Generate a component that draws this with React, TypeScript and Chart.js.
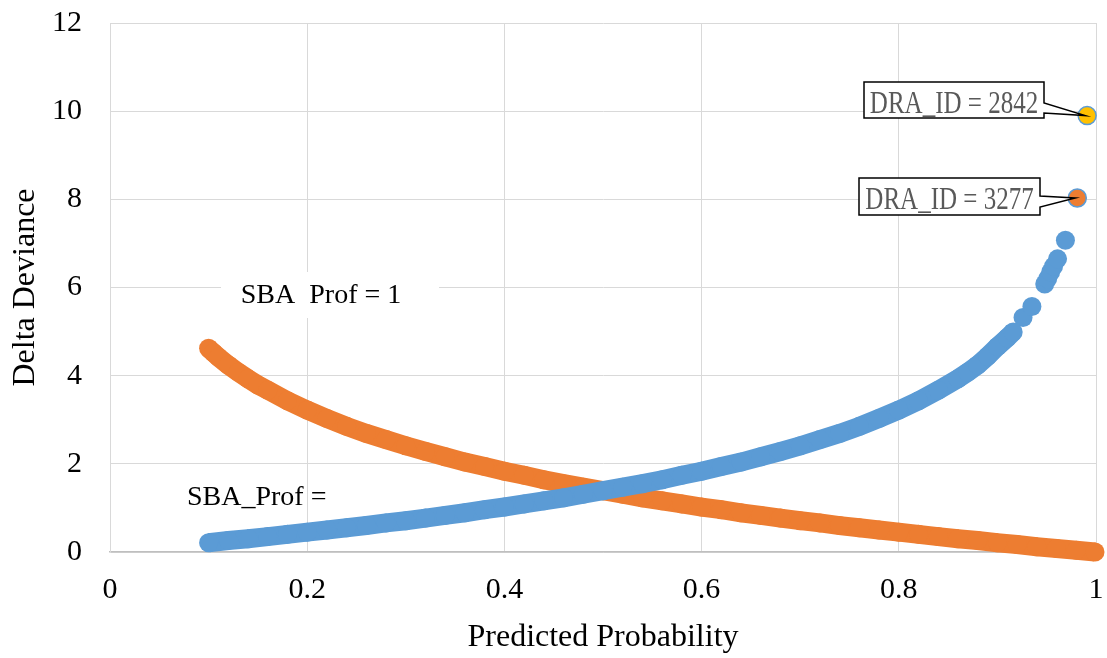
import React, { useEffect, useRef } from 'react';
import { Chart, registerables } from 'chart.js';
Chart.register(...registerables);

const xTickValues = [0, 0.2, 0.4, 0.6, 0.8, 1];
const xTickLabels = ['0', '0.2', '0.4', '0.6', '0.8', '1'];
const yTickValues = [0, 2, 4, 6, 8, 10, 12];
const yTickLabels = ['0', '2', '4', '6', '8', '10', '12'];

// SBA_Prof = 0 observations (blue), dense part of the curve
const blueProb = [0.10, 0.12, 0.14, 0.16, 0.18, 0.20, 0.22, 0.24, 0.26, 0.28, 0.30, 0.32, 0.34, 0.36, 0.38, 0.40, 0.42, 0.44, 0.46, 0.48, 0.50, 0.52, 0.54, 0.56, 0.58, 0.60, 0.62, 0.64, 0.66, 0.68, 0.70, 0.72, 0.74, 0.76, 0.78, 0.80, 0.82, 0.84, 0.86, 0.87, 0.88, 0.89, 0.90, 0.91, 0.916];
const blueDev = [0.21, 0.26, 0.30, 0.35, 0.40, 0.45, 0.50, 0.55, 0.60, 0.66, 0.71, 0.77, 0.83, 0.89, 0.96, 1.02, 1.09, 1.16, 1.23, 1.31, 1.39, 1.47, 1.55, 1.64, 1.74, 1.83, 1.94, 2.04, 2.16, 2.28, 2.41, 2.55, 2.69, 2.85, 3.03, 3.22, 3.43, 3.67, 3.93, 4.08, 4.24, 4.44, 4.66, 4.86, 4.99];
// sparse blue points at the high-probability end
const blueTopProb = [0.926, 0.935, 0.948, 0.951, 0.954, 0.957, 0.961, 0.969];
const blueTopDev = [5.32, 5.57, 6.08, 6.20, 6.35, 6.48, 6.65, 7.07];

// SBA_Prof = 1 observations (orange)
const orangeProb = [0.10, 0.105, 0.11, 0.12, 0.13, 0.14, 0.15, 0.16, 0.18, 0.20, 0.22, 0.24, 0.26, 0.28, 0.30, 0.32, 0.34, 0.36, 0.38, 0.40, 0.42, 0.44, 0.46, 0.48, 0.50, 0.52, 0.54, 0.56, 0.58, 0.60, 0.62, 0.64, 0.66, 0.68, 0.70, 0.72, 0.74, 0.76, 0.78, 0.80, 0.82, 0.84, 0.86, 0.88, 0.90, 0.92, 0.94, 0.96, 0.98, 0.999];
const orangeDev = [4.62, 4.52, 4.42, 4.24, 4.08, 3.93, 3.79, 3.67, 3.43, 3.22, 3.03, 2.85, 2.69, 2.55, 2.41, 2.28, 2.16, 2.04, 1.94, 1.83, 1.74, 1.64, 1.55, 1.47, 1.39, 1.31, 1.23, 1.16, 1.09, 1.02, 0.96, 0.89, 0.83, 0.77, 0.71, 0.66, 0.60, 0.55, 0.50, 0.45, 0.40, 0.35, 0.30, 0.26, 0.21, 0.17, 0.12, 0.08, 0.04, 0.00];

const highlightIds = ['DRA_ID = 2842', 'DRA_ID = 3277'];
const highlightProb = [0.991, 0.981];
const highlightDev = [9.90, 8.03];
const highlightFill = ['#FFC000', '#ED7D31'];

const noteLabels = ['SBA  Prof = 1', 'SBA_Prof ='];

const SERIF = "'Liberation Serif', 'Times New Roman', serif";
const BLUE = '#5B9BD5';
const ORANGE = '#ED7D31';

const pts = (xs: number[], ys: number[]) => xs.map((x, i) => ({ x, y: ys[i] }));

const annotationPlugin = {
  id: 'annotations',
  beforeDatasetsDraw(chart: any) {
    const ctx = chart.ctx;
    ctx.save();
    ctx.fillStyle = '#ffffff';
    ctx.fillRect(221, 272, 218, 46);
    ctx.fillStyle = '#000000';
    ctx.font = `28px ${SERIF}`;
    ctx.textAlign = 'center';
    ctx.textBaseline = 'alphabetic';
    ctx.fillText(noteLabels[0], 321, 303);
    ctx.textAlign = 'left';
    ctx.fillText(noteLabels[1], 187, 505);
    ctx.restore();
  },
  afterDatasetsDraw(chart: any) {
    const ctx = chart.ctx;
    const xs = chart.scales.x;
    const ys = chart.scales.y;
    const boxes = [
      { x: 864, y: 82, w: 180, h: 36, w1: 103, w2: 113 },
      { x: 859, y: 178, w: 181, h: 37, w1: 196, w2: 207 },
    ];
    ctx.save();
    boxes.forEach((b, i) => {
      const tx = xs.getPixelForValue(highlightProb[i]) - 2;
      const ty = ys.getPixelForValue(highlightDev[i]);
      const r = b.x + b.w;
      ctx.beginPath();
      ctx.moveTo(b.x, b.y);
      ctx.lineTo(r, b.y);
      ctx.lineTo(r, b.w1);
      ctx.lineTo(tx, ty);
      ctx.lineTo(r, b.w2);
      ctx.lineTo(r, b.y + b.h);
      ctx.lineTo(b.x, b.y + b.h);
      ctx.closePath();
      ctx.fillStyle = '#ffffff';
      ctx.fill();
      ctx.lineWidth = 1.5;
      ctx.strokeStyle = '#000000';
      ctx.stroke();
      ctx.save();
      ctx.translate(b.x + b.w / 2, b.y + 31);
      ctx.scale(1, 1.25);
      ctx.fillStyle = '#595959';
      ctx.font = `25px ${SERIF}`;
      ctx.textAlign = 'center';
      ctx.textBaseline = 'alphabetic';
      ctx.fillText(highlightIds[i], 0, 0);
      ctx.restore();
    });
    ctx.restore();
  },
};

export default function App() {
  const ref = useRef<HTMLCanvasElement | null>(null);
  useEffect(() => {
    document.body.style.margin = '0';
    const canvas = ref.current!;
    const chart = new Chart(canvas, {
      type: 'scatter',
      data: {
        datasets: [
          {
            label: 'SBA_Prof = 0',
            data: pts(blueProb, blueDev),
            showLine: true,
            borderColor: BLUE,
            backgroundColor: BLUE,
            borderWidth: 19,
            pointRadius: 9.5,
            pointBorderWidth: 0,
            clip: false as any,
          },
          {
            label: 'SBA_Prof = 0 (high)',
            data: pts(blueTopProb, blueTopDev),
            showLine: false,
            borderColor: BLUE,
            backgroundColor: BLUE,
            pointRadius: 9.5,
            pointBorderWidth: 0,
            clip: false as any,
          },
          {
            label: 'SBA_Prof = 1',
            data: pts(orangeProb, orangeDev),
            showLine: true,
            borderColor: ORANGE,
            backgroundColor: ORANGE,
            borderWidth: 19,
            pointRadius: 9.5,
            pointBorderWidth: 0,
            clip: false as any,
          },
          {
            label: 'Highlighted',
            data: pts(highlightProb, highlightDev),
            showLine: false,
            borderColor: BLUE,
            backgroundColor: highlightFill,
            pointRadius: 9,
            pointBorderWidth: 1.5,
            clip: false as any,
          },
        ],
      },
      options: {
        responsive: false,
        animation: false,
        devicePixelRatio: 1,
        layout: { autoPadding: false, padding: { top: 23, right: 11, left: 0, bottom: 0 } },
        plugins: { legend: { display: false }, tooltip: { enabled: false } },
        scales: {
          x: {
            type: 'linear',
            min: 0,
            max: 1,
            afterBuildTicks: (s: any) => { s.ticks = xTickValues.map((v) => ({ value: v })); },
            afterFit: (s: any) => { s.height = 106; s.paddingLeft = 0; s.paddingRight = 0; },
            ticks: {
              callback: (_v: any, i: number) => xTickLabels[i],
              color: '#000000',
              font: { family: SERIF, size: 30, lineHeight: 1.2 },
              padding: 20,
              maxRotation: 0,
            },
            grid: { color: '#d9d9d9', lineWidth: 1, drawTicks: false },
            border: { color: '#bfbfbf', width: 1.5 },
            title: {
              display: true,
              text: 'Predicted Probability',
              color: '#000000',
              font: { family: SERIF, size: 32, lineHeight: 1.2 },
              padding: 1,
            },
          },
          y: {
            type: 'linear',
            min: 0,
            max: 12,
            afterBuildTicks: (s: any) => { s.ticks = yTickValues.map((v) => ({ value: v })); },
            afterFit: (s: any) => { s.width = 110; s.paddingTop = 0; s.paddingBottom = 0; },
            ticks: {
              callback: (_v: any, i: number) => yTickLabels[i],
              color: '#000000',
              font: { family: SERIF, size: 30, lineHeight: 1.2 },
              padding: 28,
            },
            grid: { color: '#d9d9d9', lineWidth: 1, drawTicks: false },
            border: { color: '#d9d9d9', width: 1 },
            title: {
              display: true,
              text: 'Delta Deviance',
              color: '#000000',
              font: { family: SERIF, size: 32, lineHeight: 1.2 },
              padding: 6,
            },
          },
        },
      },
      plugins: [annotationPlugin],
    } as any);
    return () => chart.destroy();
  }, []);
  return (
    <div style={{ width: 1107, height: 658, background: '#ffffff' }}>
      <canvas ref={ref} width={1107} height={658} style={{ display: 'block' }} />
    </div>
  );
}
